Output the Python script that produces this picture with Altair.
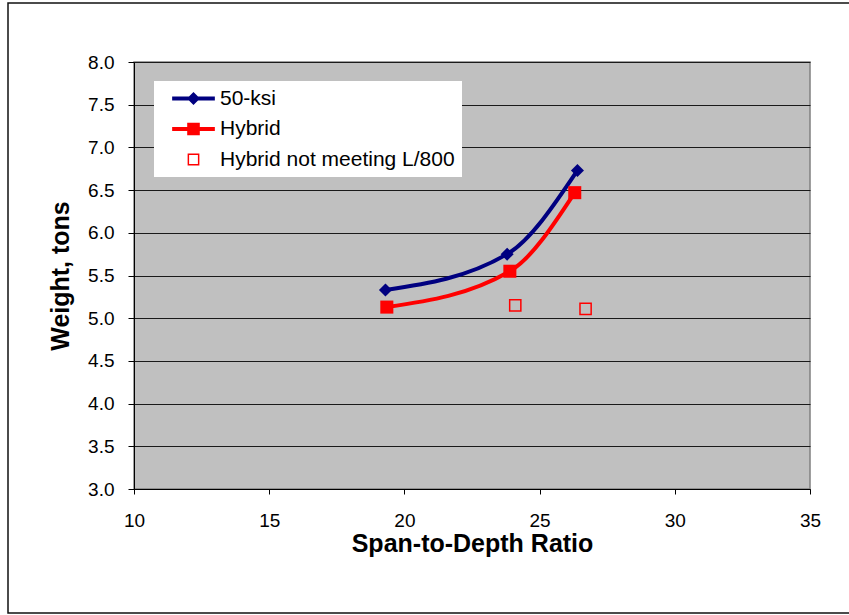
import altair as alt
import pandas as pd

# Series names, in legend order
SERIES = ["50-ksi", "Hybrid", "Hybrid not meeting L/800"]
NAVY = "#000080"
RED = "#FF0000"

# Span-to-depth ratio vs. girder weight (tons)
ksi50_ratio = [19.3, 23.8, 26.4]
ksi50_weight = [5.33, 5.75, 6.73]

hybrid_ratio = [19.35, 23.9, 26.3]
hybrid_weight = [5.13, 5.55, 6.47]

hybrid_fail_ratio = [24.1, 26.7]
hybrid_fail_weight = [5.15, 5.11]

X_TICKS = [10, 15, 20, 25, 30, 35]
Y_TICKS = [3.0, 3.5, 4.0, 4.5, 5.0, 5.5, 6.0, 6.5, 7.0, 7.5, 8.0]

FONT = "Liberation Sans"


def frame(name, xs, ys):
    return pd.DataFrame({"series": name, "ratio": xs, "weight": ys})


lines_df = pd.concat([
    frame(SERIES[0], ksi50_ratio, ksi50_weight),
    frame(SERIES[1], hybrid_ratio, hybrid_weight),
], ignore_index=True)
fail_df = frame(SERIES[2], hybrid_fail_ratio, hybrid_fail_weight)

color_scale = alt.Scale(domain=SERIES, range=[NAVY, RED, RED])

# Legend glyphs (units of sqrt(symbolSize)/2 = 7 px): a line with its marker for
# the two curves, and a square ring for the open markers.
PATH_50 = "M-3.05,-0.29H3.05V0.29H-3.05Z M-0.93,0L0,-0.93L0.93,0L0,0.93Z"
PATH_HY = "M-3.05,-0.29H3.05V0.29H-3.05Z M-0.9,-0.9H0.9V0.9H-0.9Z"
PATH_FAIL = "M-0.84,-0.84H0.84V0.84H-0.84Z M-0.63,-0.63V0.63H0.63V-0.63Z"

legend = alt.Legend(
    title=None,
    orient="none",
    legendX=20,
    legendY=19,
    fillColor="white",
    padding=7,
    rowPadding=8.5,
    symbolSize=196,
    symbolStrokeWidth=0,
    symbolOpacity=1,
    symbolOffset=22,
    labelOffset=16,
    labelFont=FONT,
    labelFontSize=21,
    labelColor="black",
    labelLimit=400,
)

x_enc = alt.X(
    "ratio:Q",
    scale=alt.Scale(domain=[10, 35], nice=False, zero=False),
    axis=alt.Axis(
        values=X_TICKS,
        grid=False,
        tickSize=5,
        labelPadding=17,
        labelFlush=False,
        title="Span-to-Depth Ratio",
        titlePadding=1,
    ),
)
y_enc = alt.Y(
    "weight:Q",
    scale=alt.Scale(domain=[3, 8], nice=False, zero=False),
    axis=alt.Axis(
        values=Y_TICKS,
        format=".1f",
        grid=True,
        gridColor="#1a1a1a",
        gridWidth=1,
        tickSize=6,
        labelPadding=14,
        labelFlush=False,
        title="Weight, tons",
        titlePadding=14,
    ),
)
color_plain = alt.Color("series:N", scale=color_scale, legend=None)

lines = alt.Chart(lines_df).mark_line(
    interpolate="monotone", strokeWidth=4, strokeJoin="round"
).encode(x=x_enc, y=y_enc, color=color_plain, detail="series:N")

markers = alt.Chart(lines_df).mark_point(filled=True, opacity=1).encode(
    x=x_enc,
    y=y_enc,
    color=color_plain,
    shape=alt.Shape(
        "series:N",
        scale=alt.Scale(domain=SERIES, range=["diamond", "square", "square"]),
        legend=None,
    ),
    size=alt.Size(
        "series:N",
        scale=alt.Scale(domain=SERIES, range=[170, 170, 125]),
        legend=None,
    ),
)

open_squares = alt.Chart(fail_df).mark_point(
    filled=False, shape="square", size=125, strokeWidth=1.5, opacity=1
).encode(x=x_enc, y=y_enc, color=color_plain)

# Legend-only layer: no rows, just the series scales that drive the key
key = alt.Chart(pd.DataFrame({"series": pd.Series([], dtype=str)})).mark_point(
    filled=True, opacity=1
).encode(
    color=alt.Color("series:N", scale=color_scale, legend=legend),
    shape=alt.Shape(
        "series:N",
        scale=alt.Scale(domain=SERIES, range=[PATH_50, PATH_HY, PATH_FAIL]),
        legend=legend,
    ),
)

# Thin outline around the whole figure
outline = alt.Chart(pd.DataFrame({"k": [0]})).mark_rect(
    fill="transparent", stroke="#111111", strokeWidth=1.5
).encode(
    x=alt.value(-126), x2=alt.value(730), y=alt.value(-59), y2=alt.value(551)
)

plot_bg = alt.ViewBackground(fill="#C0C0C0", stroke="#808080", strokeWidth=1.5)

chart = (
    alt.layer(outline, lines, markers, open_squares, key)
    .resolve_scale(color="independent", shape="independent", size="independent")
    .properties(
        width=676,
        height=427,
        view=plot_bg,
        autosize=alt.AutoSizeParams(type="none"),
        padding={"left": 134, "top": 62, "right": 39, "bottom": 126},
        background="white",
    )
    .configure_view(fill="#C0C0C0", stroke="#808080", strokeWidth=1.5)
    .configure_axis(
        labelFont=FONT,
        labelFontSize=19,
        labelColor="black",
        titleFont=FONT,
        titleFontSize=25,
        titleFontWeight="bold",
        titleColor="black",
        domainColor="black",
        domainWidth=1,
        tickColor="black",
        tickWidth=1,
    )
)

chart.save("out.html", embed_options={"renderer": "svg", "actions": False})
